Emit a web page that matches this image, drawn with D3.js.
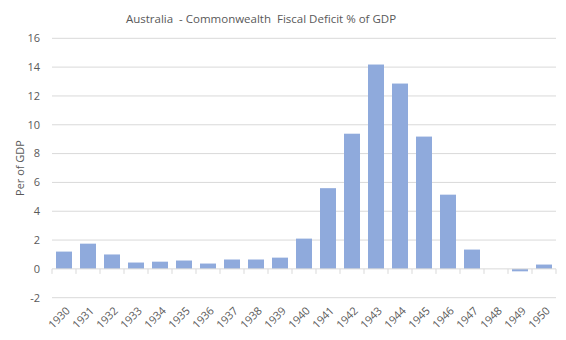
<!DOCTYPE html>
<html><head><meta charset="utf-8">
<script src="https://cdn.jsdelivr.net/npm/d3@7/dist/d3.min.js"></script>
<style>body{margin:0;background:#fff} text{white-space:pre}</style>
</head><body><svg id="c" width="566" height="340"></svg>
<script>
const years = ["1930","1931","1932","1933","1934","1935","1936","1937","1938","1939","1940","1941","1942","1943","1944","1945","1946","1947","1948","1949","1950"];
const deficit = [1.2,1.75,1.0,0.44,0.5,0.58,0.37,0.65,0.65,0.78,2.1,5.6,9.38,14.18,12.86,9.18,5.15,1.34,0,-0.17,0.3];
const yTicks = [-2,0,2,4,6,8,10,12,14,16];
const title = "Australia  - Commonwealth  Fiscal Deficit % of GDP";
const yLabel = "Per of GDP";

const svg = d3.select("#c");
const font = "'Open Sans', sans-serif";
const L = 52, R = 556, T = 38.3, B = 297.7;
const x = d3.scaleBand().domain(years).range([L, R]).paddingInner(1/3).paddingOuter(1/6);
const y = d3.scaleLinear().domain([-2, 16]).range([B, T]);

// gridlines
svg.append("g").selectAll("line").data(yTicks.filter(d => d !== 0)).join("line")
  .attr("x1", L).attr("x2", R).attr("y1", d => y(d)).attr("y2", d => y(d))
  .attr("stroke", "#d9d9d9").attr("stroke-width", 1);

// y tick labels
svg.append("g").selectAll("text").data(yTicks).join("text")
  .attr("x", 40).attr("y", d => y(d)).attr("dy", "0.35em")
  .attr("text-anchor", "end").attr("font-family", font).attr("font-size", 11)
  .attr("fill", "#595959").text(d => d);

// bars
svg.append("g").selectAll("rect").data(years).join("rect")
  .attr("x", d => x(d))
  .attr("width", x.bandwidth())
  .attr("y", (d, i) => y(Math.max(0, deficit[i])))
  .attr("height", (d, i) => Math.abs(y(deficit[i]) - y(0)))
  .attr("fill", "#8faadc");

// zero axis with ticks at category boundaries
const step = x.step();
const bounds = d3.range(years.length + 1).map(i => L + i * step);
svg.append("line").attr("x1", L).attr("x2", R).attr("y1", y(0)).attr("y2", y(0))
  .attr("stroke", "#d9d9d9").attr("stroke-width", 1);
svg.append("g").selectAll("line").data(bounds).join("line")
  .attr("x1", d => d).attr("x2", d => d).attr("y1", y(0)).attr("y2", y(0) + 5)
  .attr("stroke", "#d9d9d9").attr("stroke-width", 1);

// x labels rotated
svg.append("g").selectAll("text").data(years).join("text")
  .attr("transform", d => `translate(${x(d) + x.bandwidth()/2 + 4},${B + 11}) rotate(-45)`)
  .attr("text-anchor", "end").attr("dy", "0.35em")
  .attr("font-family", font).attr("font-size", 11).attr("fill", "#595959")
  .text(d => d);

// title
svg.append("text").attr("x", 261).attr("y", 19).attr("dy", "0.35em")
  .attr("text-anchor", "middle").attr("font-family", font).attr("font-size", 11.5)
  .attr("fill", "#595959").text(title);

// y label
svg.append("text").attr("transform", `translate(20,${(T + B) / 2}) rotate(-90)`)
  .attr("text-anchor", "middle").attr("dy", "0.35em")
  .attr("font-family", font).attr("font-size", 11).attr("fill", "#595959").text(yLabel);
</script></body></html>
